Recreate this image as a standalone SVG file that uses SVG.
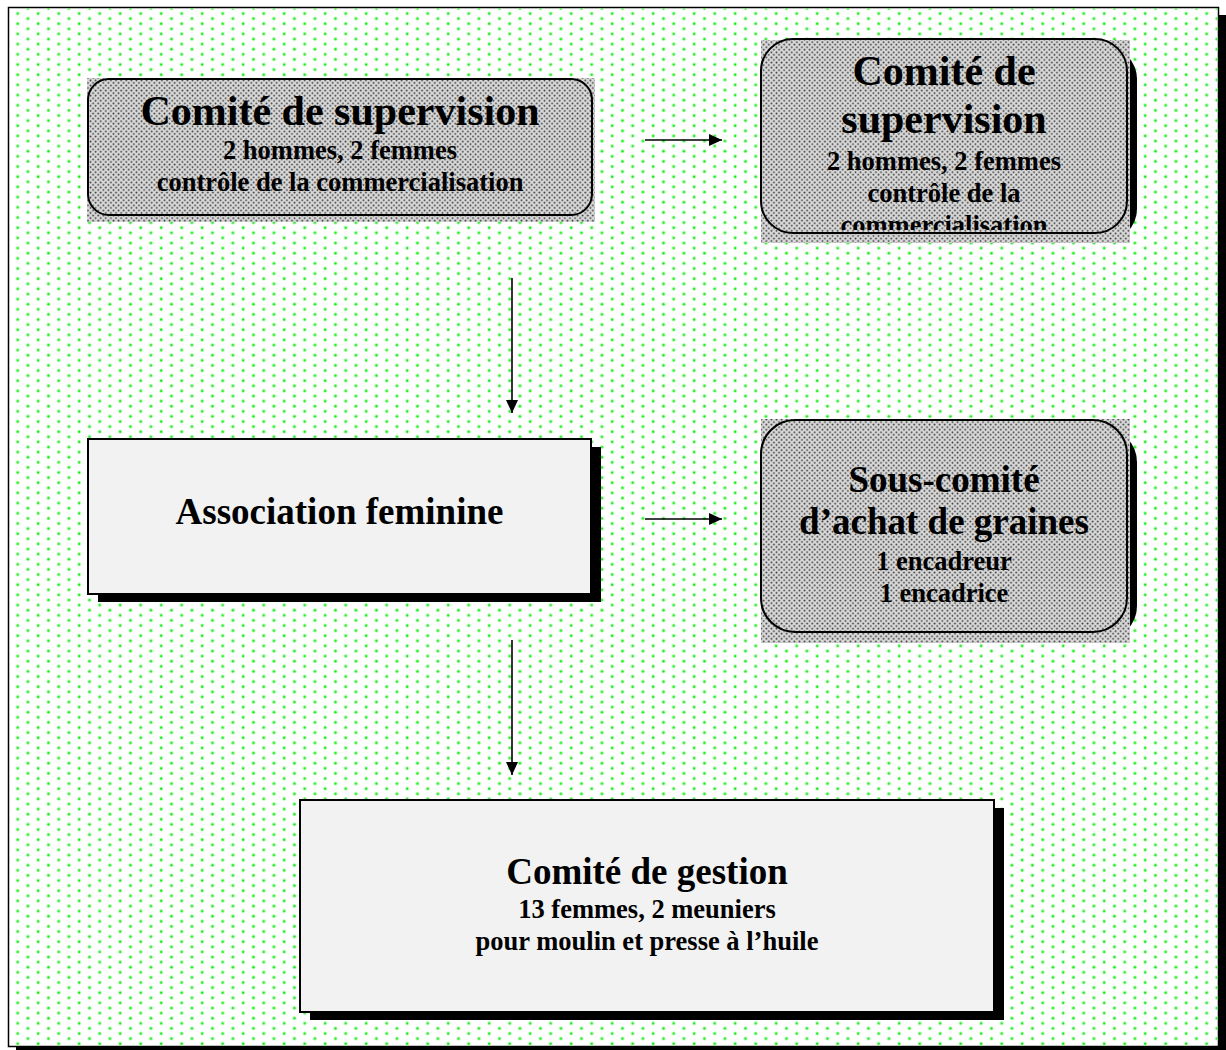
<svg xmlns="http://www.w3.org/2000/svg" width="1226" height="1050" viewBox="0 0 1226 1050">
<style>
text{font-family:"Liberation Serif","Times New Roman",serif;font-weight:bold;fill:#000;text-anchor:middle}
.t42{font-size:42px}
.t37{font-size:37px}
.s{font-size:26.5px}
.border{fill:none;stroke:#000;stroke-width:2}
.box{fill:#f2f2f2;stroke:#000;stroke-width:2}
.shadow{fill:#000}
.conn{stroke:#000;stroke-width:1.6;fill:none;marker-end:url(#arrow)}
</style>
<defs>
<pattern id="bgdots" patternUnits="userSpaceOnUse" x="12.7" y="0.8" width="20.5" height="10.2">
<circle cx="5" cy="2.5" r="2" fill="#b6ffb6"/>
<circle cx="5" cy="2.5" r="1.1" fill="#19e619"/>
<circle cx="15.25" cy="7.6" r="2" fill="#b6ffb6"/>
<circle cx="15.25" cy="7.6" r="1.1" fill="#19e619"/>
</pattern>
<pattern id="gray" patternUnits="userSpaceOnUse" width="5.1" height="5.1">
<rect width="5.1" height="5.1" fill="#d8d8d8"/>
<circle cx="1.3" cy="1.3" r="0.95" fill="#3a3a3a"/>
<circle cx="3.85" cy="3.85" r="0.95" fill="#3a3a3a"/>
</pattern>
<marker id="arrow" markerUnits="userSpaceOnUse" markerWidth="14" markerHeight="14" refX="13" refY="6" orient="auto">
<path d="M0,0 L13,6 L0,12 Z" fill="#000"/>
</marker>
<clipPath id="clip2"><rect x="762" y="40" width="364" height="190"/></clipPath>
</defs>

<g id="frame">
<rect x="16" y="15" width="1210" height="1040" fill="#000"/>
<rect x="8.5" y="7.5" width="1210" height="1039" fill="#fff" stroke="#000" stroke-width="1.5"/>
<rect x="9.5" y="8.5" width="1208" height="1037" fill="url(#bgdots)"/>
</g>

<g id="node-supervision-left">
<rect x="87" y="78" width="508" height="144" fill="url(#gray)"/>
<rect x="88" y="79" width="504" height="136" rx="21" ry="21" class="border"/>
<text class="t42" x="340" y="125">Comité de supervision</text>
<text class="s" x="340" y="159">2 hommes, 2 femmes</text>
<text class="s" x="340" y="191">contrôle de la commercialisation</text>
</g>

<g id="node-supervision-right">
<rect x="771" y="47" width="366" height="194" rx="32" ry="32" class="shadow"/>
<rect x="761" y="40" width="369" height="203" fill="url(#gray)"/>
<rect x="761" y="39" width="366" height="194" rx="32" ry="32" class="border"/>
<g clip-path="url(#clip2)">
<text class="t42" x="944" y="85">Comité de</text>
<text class="t42" x="944" y="133">supervision</text>
<text class="s" x="944" y="170">2 hommes, 2 femmes</text>
<text class="s" x="944" y="202">contrôle de la</text>
<text class="s" x="944" y="234">commercialisation</text>
</g>
</g>

<g id="node-sous-comite">
<rect x="771" y="428" width="366" height="212" rx="34" ry="34" class="shadow"/>
<rect x="761" y="419" width="369" height="224" fill="url(#gray)"/>
<rect x="761" y="420" width="366" height="212" rx="34" ry="34" class="border"/>
<text class="t37" x="944" y="492">Sous-comité</text>
<text class="t37" x="944" y="534">d’achat de graines</text>
<text class="s" x="944" y="570">1 encadreur</text>
<text class="s" x="944" y="602">1 encadrice</text>
</g>

<g id="node-association">
<rect x="98" y="447" width="503" height="155" class="shadow"/>
<rect x="88" y="439" width="503" height="155" class="box"/>
<text class="t37" x="339.5" y="524">Association feminine</text>
</g>

<g id="node-gestion">
<rect x="310" y="808" width="694" height="212" class="shadow"/>
<rect x="300" y="800" width="694" height="212" class="box"/>
<text class="t37" x="647" y="884">Comité de gestion</text>
<text class="s" x="647" y="918">13 femmes, 2 meuniers</text>
<text class="s" x="647" y="950">pour moulin et presse à l’huile</text>
</g>

<g id="connectors">
<line class="conn" x1="645" y1="140" x2="722" y2="140"/>
<line class="conn" x1="512" y1="278" x2="512" y2="413"/>
<line class="conn" x1="645" y1="519" x2="722" y2="519"/>
<line class="conn" x1="512" y1="640" x2="512" y2="775"/>
</g>
</svg>
